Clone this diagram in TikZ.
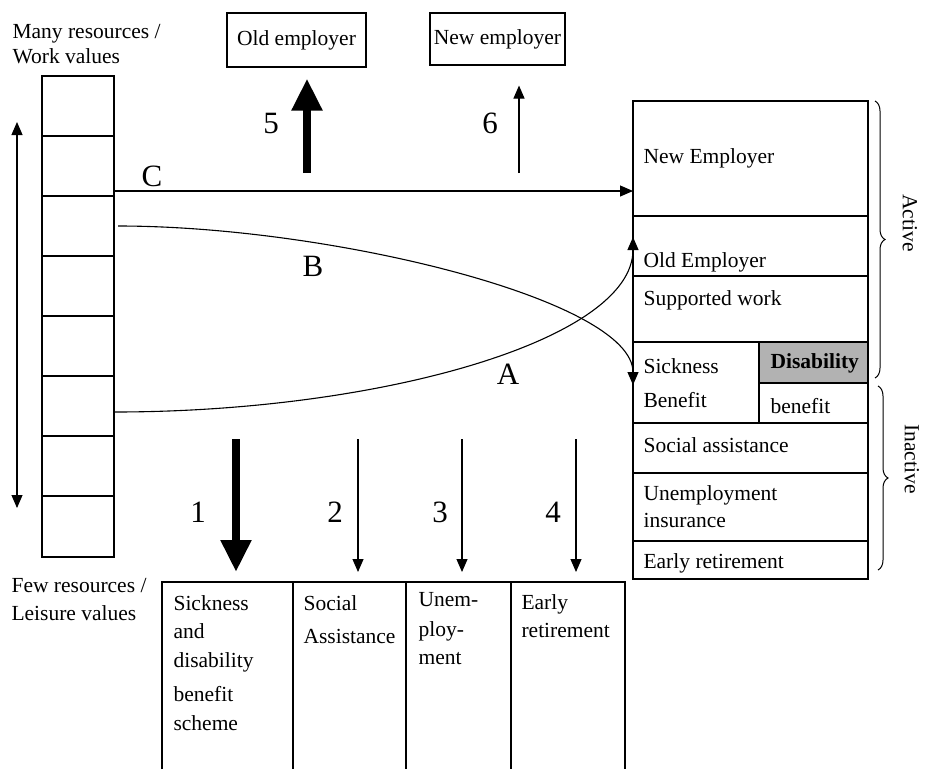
\documentclass[tikz,border=0pt]{standalone}
\usepackage{fontspec}
\setmainfont{Liberation Serif}
\usetikzlibrary{arrows.meta,decorations.pathreplacing}

\tikzset{
    txt/.style={inner sep=0pt, anchor=base west, align=left},
    lbl/.style={inner sep=0pt, font=\fontsize{31}{31}\selectfont},
    box/.style={draw, inner sep=0pt},
    flow/.style={-{Triangle[length=13pt,width=11pt]}, line width=1.1pt},
    bigflow/.style={-{Triangle[length=32pt,width=29pt]}, line width=8.5pt},
    brc/.style={decorate, decoration={brace, amplitude=10pt}, line width=1pt},
}

\begin{document}
\begin{tikzpicture}[x=1pt, y=-1pt, line width=1.1pt, font=\fontsize{21.5}{28.5}\selectfont]
        \useasboundingbox (0,0) rectangle (926,769);

        % Colonna risorse
        \draw (42,76) rectangle (114,557);
        \foreach \y in {136,196,...,497}
            \draw (42,\y) -- (114,\y);
        \node[txt] (many) at (12,38) {Many resources /};
        \node[txt] (work) at (12,63) {Work values};
        \node[txt] (few) at (11,592) {Few resources /};
        \node[txt] (leisure) at (11,620) {Leisure values};
        \coordinate (up) at (17,122);
        \coordinate (down) at (17,508);
        \draw[{Triangle[length=13pt,width=11pt]}-{Triangle[length=13pt,width=11pt]}] (up) -- (down);

        % Datori di lavoro
        \node[box, minimum width=139pt, minimum height=54pt] (oldemp) at (296.5,40) {Old employer};
        \node[box, minimum width=135pt, minimum height=52pt] (newemp) at (497.5,39) {New employer};
        \coordinate (f5) at (307,173);
        \coordinate (f6) at (519,173);
        \draw[bigflow, shorten >=11pt] (f5) -- (f5 |- oldemp.south);
        \draw[flow, shorten >=20pt] (f6) -- (f6 |- newemp.south);
        \node[lbl] (n5) at (271,123) {5};
        \node[lbl] (n6) at (490,123) {6};

        % Tabella destra
        \fill[black!30] (759,342) rectangle (868,383);
        \draw (633,101) rectangle (868,579);
        \foreach \y in {216,276,342,423,473,541}
            \draw (633,\y) -- (868,\y);
        \draw (759,342) -- (759,423);
        \draw (759,383) -- (868,383);
        \node[txt] (tnew) at (643,163) {New Employer};
        \node[txt] (told) at (643,267) {Old Employer};
        \node[txt] (tsup) at (643,305) {Supported work};
        \node[txt] (tsick) at (643,407) {Sickness\\[5.5pt]Benefit};
        \node[txt] (tdis) at (770,368) {\textbf{Disability}};
        \node[txt] (tben) at (770,413) {benefit};
        \node[txt] (tsoc) at (643,452) {Social assistance};
        \node[txt] (tune) at (643,527) {Unemployment\\[-1.5pt]insurance};
        \node[txt] (tearly) at (643,568) {Early retirement};

        % Parentesi
        \coordinate (act1) at (875,101);
        \coordinate (act2) at (875,378);
        \coordinate (ina1) at (878,386);
        \coordinate (ina2) at (878,570);
        \draw[brc] (act1) -- (act2);
        \draw[brc] (ina1) -- (ina2);
        \node[rotate=-90, inner sep=0pt] (active) at (910,223) {Active};
        \node[rotate=-90, inner sep=0pt] (inactive) at (912,459) {Inactive};

        % Percorsi A, B, C
        \coordinate (cs) at (114,191);
        \coordinate (ce) at (633,191);
        \coordinate (bs) at (118,226);
        \coordinate (be) at (633,385);
        \coordinate (as) at (114,412);
        \coordinate (ae) at (633,237);
        \draw[flow] (cs) -- (ce);
        \draw[flow] (bs) .. controls (330,226) and (633,300) .. (be);
        \draw[flow] (as) .. controls (380,412) and (633,340) .. (ae);
        \node[lbl] (lc) at (152,176) {C};
        \node[lbl] (lb) at (313,266) {B};
        \node[lbl] (la) at (508,374) {A};

        % Regimi in basso
        \draw (162,769) -- (162,582) -- (625,582) -- (625,769);
        \foreach \x in {293,406,511}
            \draw (\x,582) -- (\x,769);
        \node[txt, anchor=north west] (sick) at (173,595) {Sickness\\and\\disability\\[6pt]benefit\\scheme};
        \node[txt, anchor=north west] (soc) at (303,595) {Social\\[4.5pt]Assistance};
        \node[txt, anchor=north west] (unem) at (418,592) {Unem-\\[1.5pt]ploy-\\[-0.5pt]ment};
        \node[txt, anchor=north west] (early) at (521,594) {Early\\retirement};
        \coordinate (s1) at (236,439);
        \coordinate (s2) at (358,439);
        \coordinate (s3) at (462,439);
        \coordinate (s4) at (576,439);
        \coordinate (e1) at (236,582);
        \coordinate (e2) at (358,582);
        \coordinate (e3) at (462,582);
        \coordinate (e4) at (576,582);
        \draw[bigflow, shorten >=10pt] (s1) -- (e1);
        \draw[flow, shorten >=10pt] (s2) -- (e2);
        \draw[flow, shorten >=10pt] (s3) -- (e3);
        \draw[flow, shorten >=10pt] (s4) -- (e4);
        \node[lbl] (n1) at (198,512) {1};
        \node[lbl] (n2) at (335,512) {2};
        \node[lbl] (n3) at (440,512) {3};
        \node[lbl] (n4) at (553,512) {4};
\end{tikzpicture}
\end{document}
